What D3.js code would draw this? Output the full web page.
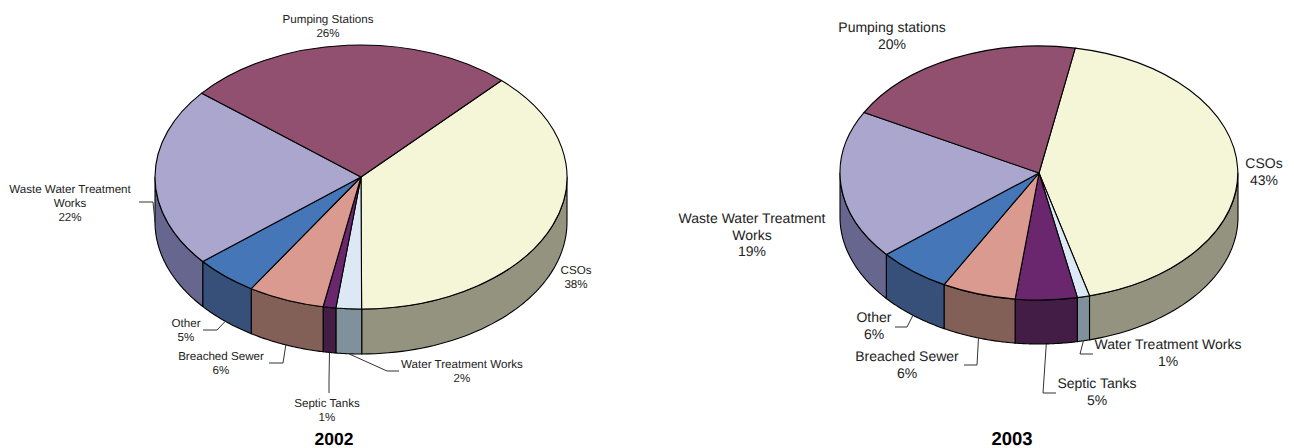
<!DOCTYPE html>
<html>
<head>
<meta charset="utf-8">
<style>
  html, body { margin: 0; padding: 0; background: #fff; }
  svg { display: block; }
  text { font-family: "Liberation Sans", Arial, sans-serif; fill: #222; text-rendering: geometricPrecision; }
  .title { font-weight: bold; fill: #000; }
  .face, .wall { stroke: #000; stroke-linejoin: round; vector-effect: non-scaling-stroke; }
  .leader { fill: none; stroke: #333; stroke-width: 1; }
</style>
<script src="https://cdn.jsdelivr.net/npm/d3@7"></script>
</head>
<body>
<svg id="chart" width="1294" height="448"></svg>
<script>
// Slice order runs clockwise from the CSOs slice.
const labels2002 = [["CSOs"], ["Water Treatment Works"], ["Septic Tanks"], ["Breached Sewer"], ["Other"], ["Waste Water Treatment", "Works"], ["Pumping Stations"]];
const labels2003 = [["CSOs"], ["Water Treatment Works"], ["Septic Tanks"], ["Breached Sewer"], ["Other"], ["Waste Water Treatment", "Works"], ["Pumping stations"]];
const values2002 = [38, 2, 1, 6, 5, 22, 26];
const values2003 = [43, 1, 5, 6, 6, 19, 20];
const topColors = ["#F5F6D8", "#DCE9F5", "#6B276E", "#DB9A8F", "#4476B8", "#AAA6CE", "#91506F"];
const wallColors = ["#93937F", "#7F929B", "#431D45", "#825F57", "#36507A", "#66668F", "#6A3A50"];

// Per-chart geometry; each place holds a label's centre x, first baseline and leader elbows.
const layout2002 = {
  year: "2002", titleX: 334, titleY: 445, titleSize: 17.5, cx: 361, cy: 177, rx: 206, ry: 132, depth: 45,
  startDeg: 43, fontSize: 11.6, lineHeight: 14,
  places: [
    { x: 576, y: 274 },
    { x: 462, y: 368, elbows: [[387, 371], [399, 371]] },
    { x: 327, y: 407, elbows: [[329, 380], [329, 393]] },
    { x: 221, y: 360, elbows: [[283, 363], [269, 363]] },
    { x: 186, y: 327, elbows: [[217, 330], [203, 330]] },
    { x: 70, y: 193, elbows: [[153, 202], [139, 202]] },
    { x: 328, y: 23 }
  ]
};
const layout2003 = {
  year: "2003", titleX: 1012, titleY: 445, titleSize: 18.5, cx: 1039, cy: 173, rx: 199, ry: 127, depth: 44,
  startDeg: 10.5, fontSize: 14, lineHeight: 16.6,
  places: [
    { x: 1264, y: 168 },
    { x: 1168, y: 349, elbows: [[1080, 354], [1093, 354]] },
    { x: 1097, y: 388, elbows: [[1043, 393], [1056, 393]] },
    { x: 907, y: 361, elbows: [[977, 365], [964, 365]] },
    { x: 874, y: 322, elbows: [[907, 327], [895, 327]] },
    { x: 752, y: 223 },
    { x: 892, y: 32 }
  ]
};

const svg = d3.select("#chart");

function drawPie(names, values, cfg) {
  const g = svg.append("g");
  const start = cfg.startDeg * Math.PI / 180;
  const slices = d3.pie().sort(null).startAngle(start).endAngle(start + 2 * Math.PI)(values);

  const px = a => cfg.cx + cfg.rx * Math.sin(a);
  const py = a => cfg.cy - cfg.ry * Math.cos(a);

  // Outer wall: only the part of each slice on the near half of the ellipse.
  const wallPath = d => {
    let a0 = d.startAngle, a1 = d.endAngle;
    if (a0 > 1.5 * Math.PI) { a0 -= 2 * Math.PI; a1 -= 2 * Math.PI; }
    const lo = Math.max(a0, Math.PI / 2), hi = Math.min(a1, 1.5 * Math.PI);
    if (hi <= lo) return null;
    const steps = d3.range(0, 49).map(i => lo + (hi - lo) * i / 48);
    const ring = steps.map(a => [px(a), py(a)])
      .concat(steps.slice().reverse().map(a => [px(a), py(a) + cfg.depth]));
    return d3.line()(ring) + "Z";
  };

  g.selectAll("path.wall").data(slices).join("path")
    .attr("class", "wall")
    .attr("d", wallPath)
    .attr("fill", (d, i) => wallColors[i])
    .attr("stroke-width", 1.1);

  // Top face: a unit-circle arc stretched into the tilted ellipse.
  const arc = d3.arc().innerRadius(0).outerRadius(1);
  g.selectAll("path.face").data(slices).join("path")
    .attr("class", "face")
    .attr("d", arc)
    .attr("transform", `translate(${cfg.cx},${cfg.cy}) scale(${cfg.rx},${cfg.ry})`)
    .attr("fill", (d, i) => topColors[i])
    .attr("stroke-width", 1.1);

  // Leader lines start at the foot of the wall, at the slice's middle angle.
  slices.forEach((d, i) => {
    const place = cfg.places[i];
    if (!place.elbows) return;
    const mid = (d.startAngle + d.endAngle) / 2;
    g.append("path")
      .attr("class", "leader")
      .attr("d", d3.line()([[px(mid), py(mid) + cfg.depth], ...place.elbows]));
  });

  // Category name lines followed by the percentage.
  slices.forEach((d, i) => {
    const place = cfg.places[i];
    const lines = names[i].concat(`${values[i]}%`);
    g.append("text")
      .attr("font-size", cfg.fontSize)
      .attr("text-anchor", "middle")
      .selectAll("tspan").data(lines).join("tspan")
      .attr("x", place.x)
      .attr("y", (t, k) => place.y + k * cfg.lineHeight)
      .text(t => t);
  });

  g.append("text")
    .attr("class", "title")
    .attr("x", cfg.titleX)
    .attr("y", cfg.titleY)
    .attr("font-size", cfg.titleSize)
    .attr("text-anchor", "middle")
    .text(cfg.year);
}

drawPie(labels2002, values2002, layout2002);
drawPie(labels2003, values2003, layout2003);
</script>
</body>
</html>
